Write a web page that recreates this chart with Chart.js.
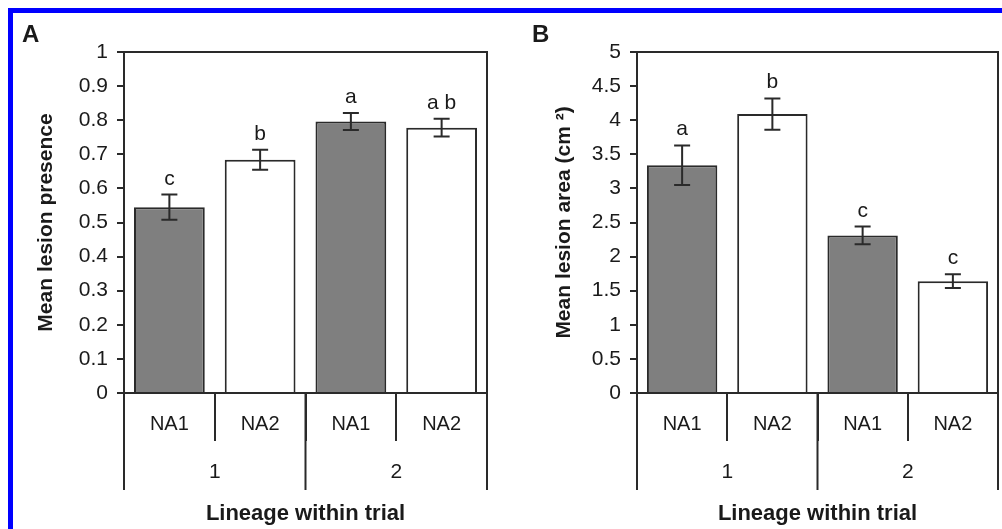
<!DOCTYPE html>
<html>
<head>
<meta charset="utf-8">
<script src="https://cdn.jsdelivr.net/npm/chart.js@4.4.1/dist/chart.umd.min.js"></script>
<style>
  html, body { margin: 0; padding: 0; background: #fff; overflow: hidden; }
  body { width: 1002px; height: 529px; position: relative; }
  canvas { position: absolute; top: 0; }
  #frame {
    position: absolute; left: 8px; top: 8px; width: 1100px; height: 600px;
    border: 5px solid #0000ff; pointer-events: none; z-index: 5;
  }
</style>
</head>
<body>
<div id="frame"></div>
<canvas id="chartA" width="500" height="529" style="left:0"></canvas>
<canvas id="chartB" width="502" height="529" style="left:500px"></canvas>
<script>
// data
const lineages = ["NA1", "NA2", "NA1", "NA2"];
const trials = ["1", "2"];

const presenceMeans = [0.545, 0.684, 0.796, 0.778];
const presenceErrors = [0.037, 0.029, 0.025, 0.026];
const presenceLetters = ["c", "b", "a", "a b"];

const areaMeans = [3.34, 4.09, 2.31, 1.64];
const areaErrors = [0.29, 0.23, 0.13, 0.10];
const areaLetters = ["a", "b", "c", "c"];

const barFills = ["#7f7f7f", "#ffffff", "#7f7f7f", "#ffffff"];

const FONT = "'Liberation Sans', Arial, Helvetica, sans-serif";
const INK = "#1a1a1a";
const LINE = "#2a2a2a";

Chart.defaults.font.family = FONT;
Chart.defaults.color = INK;

// error bars + significance letters
const errorBars = {
  id: "errorBars",
  afterDatasetsDraw(chart, args, opts) {
    const { ctx } = chart;
    const y = chart.scales.y;
    const means = chart.data.datasets[0].data;
    const meta = chart.getDatasetMeta(0);
    ctx.save();
    ctx.strokeStyle = LINE;
    ctx.lineWidth = 2;
    ctx.fillStyle = INK;
    ctx.font = "21px " + FONT;
    ctx.textAlign = "center";
    ctx.textBaseline = "alphabetic";
    meta.data.forEach((bar, i) => {
      const top = y.getPixelForValue(means[i] + opts.errors[i]);
      const bot = y.getPixelForValue(means[i] - opts.errors[i]);
      ctx.beginPath();
      ctx.moveTo(bar.x, top);
      ctx.lineTo(bar.x, bot);
      ctx.moveTo(bar.x - 8, top);
      ctx.lineTo(bar.x + 8, top);
      ctx.moveTo(bar.x - 8, bot);
      ctx.lineTo(bar.x + 8, bot);
      ctx.stroke();
      ctx.fillText(opts.letters[i], bar.x, top - 10);
    });
    ctx.restore();
  },
};

// second level of the category axis (trial) + box around the plot
const trialAxis = {
  id: "trialAxis",
  afterDraw(chart, args, opts) {
    const { ctx, chartArea } = chart;
    const x = chart.scales.x;
    const groups = opts.groups;
    const per = chart.data.labels.length / groups.length;
    const edges = [];
    for (let g = 0; g <= groups.length; g++) {
      if (g === 0) edges.push(x.left);
      else if (g === groups.length) edges.push(x.right);
      else edges.push((x.getPixelForValue(g * per - 1) + x.getPixelForValue(g * per)) / 2);
    }
    ctx.save();
    ctx.strokeStyle = LINE;
    ctx.lineWidth = 2;
    ctx.strokeRect(chartArea.left, chartArea.top, chartArea.right - chartArea.left, chartArea.bottom - chartArea.top);
    ctx.beginPath();
    edges.forEach((px) => {
      ctx.moveTo(px, chartArea.bottom);
      ctx.lineTo(px, chartArea.bottom + 97);
    });
    ctx.stroke();
    ctx.fillStyle = INK;
    ctx.font = "21px " + FONT;
    ctx.textAlign = "center";
    ctx.textBaseline = "middle";
    groups.forEach((label, g) => {
      ctx.fillText(label, (edges[g] + edges[g + 1]) / 2, chartArea.bottom + 79);
    });
    ctx.restore();
  },
};

function tickText(v) {
  return String(+Number(v).toFixed(2));
}

function makeChart(id, cfg) {
  return new Chart(document.getElementById(id), {
    type: "bar",
    data: {
      labels: lineages,
      datasets: [
        {
          data: cfg.means,
          backgroundColor: barFills,
          borderColor: LINE,
          borderWidth: 2,
          categoryPercentage: 1,
          barPercentage: 0.78,
        },
      ],
    },
    options: {
      responsive: false,
      animation: false,
      events: [],
      layout: { padding: { left: cfg.padLeft, right: cfg.padRight, top: 0, bottom: 0 } },
      plugins: {
        legend: { display: false },
        tooltip: { enabled: false },
        title: {
          display: true,
          text: cfg.panel,
          align: "start",
          color: INK,
          font: { size: 24, weight: "bold" },
          padding: { top: 21, bottom: 2.2 },
        },
        errorBars: { errors: cfg.errors, letters: cfg.letters },
        trialAxis: { groups: trials },
      },
      scales: {
        x: {
          afterFit: (s) => { s.height = 136; },
          grid: {
            offset: true,
            drawOnChartArea: false,
            drawTicks: true,
            tickLength: 48,
            color: LINE,
            lineWidth: 2,
          },
          border: { display: true, color: LINE, width: 2 },
          ticks: { color: INK, font: { size: 20 }, padding: -29, maxRotation: 0 },
          title: {
            display: true,
            text: "Lineage within trial",
            color: INK,
            font: { size: 22, weight: "bold" },
            padding: { top: 0, bottom: 1.4 },
          },
        },
        y: {
          min: 0,
          max: cfg.max,
          afterFit: (s) => { s.width = cfg.axisWidth; },
          grid: {
            drawOnChartArea: false,
            drawTicks: true,
            tickLength: 7,
            color: LINE,
            lineWidth: 2,
          },
          border: { display: true, color: LINE, width: 2 },
          ticks: {
            stepSize: cfg.step,
            color: INK,
            font: { size: 21 },
            padding: 9,
            callback: tickText,
          },
          title: {
            display: true,
            text: cfg.yTitle,
            color: INK,
            font: { size: 21, weight: "bold" },
            padding: { top: cfg.titlePad, bottom: 0 },
          },
        },
      },
    },
    plugins: [errorBars, trialAxis],
  });
}

makeChart("chartA", {
  panel: "A",
  means: presenceMeans,
  errors: presenceErrors,
  letters: presenceLetters,
  max: 1,
  step: 0.1,
  yTitle: "Mean lesion presence",
  padLeft: 22,
  padRight: 13,
  axisWidth: 102,
  titlePad: 11.4,
});

makeChart("chartB", {
  panel: "B",
  means: areaMeans,
  errors: areaErrors,
  letters: areaLetters,
  max: 5,
  step: 0.5,
  yTitle: "Mean lesion area (cm \u00b2)",
  padLeft: 32,
  padRight: 4,
  axisWidth: 105,
  titlePad: 20,
});
</script>
</body>
</html>
